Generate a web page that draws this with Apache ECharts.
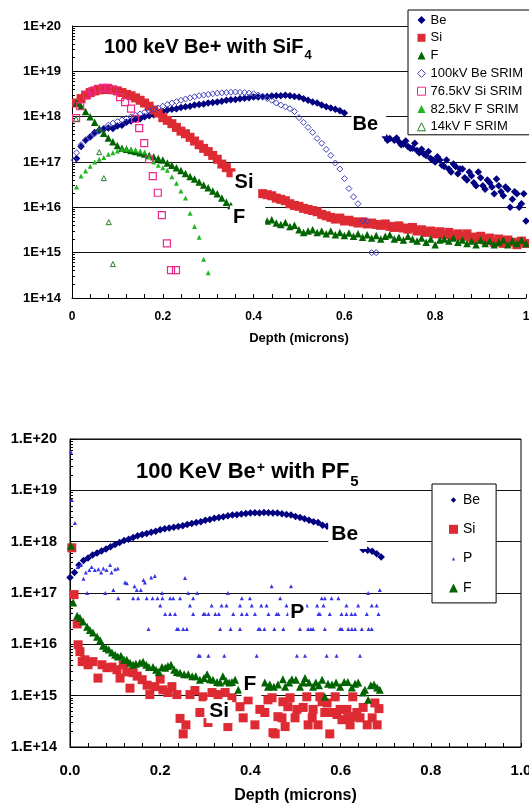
<!DOCTYPE html>
<html><head><meta charset="utf-8">
<script src="https://cdn.jsdelivr.net/npm/echarts@6/dist/echarts.min.js"></script>
<style>html,body{margin:0;padding:0;background:#fff}#c{width:529px;height:805px}</style>
</head><body><div id="c"></div>
<script>
// ---------- TOP PANEL: 100 keV Be+ with SiF4 ----------
const topDepth = [0.01,0.02,0.03,0.04,0.05,0.06,0.07,0.08,0.09,0.10,0.11,0.12,0.13,0.14,0.15,0.16,0.17,0.18,0.19,0.20,
0.21,0.22,0.23,0.24,0.25,0.26,0.27,0.28,0.29,0.30,0.31,0.32,0.33,0.34,0.35,0.36,0.37,0.38,0.39,0.40,
0.41,0.42,0.43,0.44,0.45,0.46,0.47,0.48,0.49,0.50,0.51,0.52,0.53,0.54,0.55,0.56,0.57,0.58,0.59,0.60,
0.61,0.62,0.63,0.64,0.65,0.66,0.67,0.68,0.69,0.70,0.71,0.72,0.73,0.74,0.75,0.76,0.77,0.78,0.79,0.80,
0.81,0.82,0.83,0.84,0.85,0.86,0.87,0.88,0.89,0.90,0.91,0.92,0.93,0.94,0.95,0.96,0.97,0.98,0.99,1.00];
const topBe = [1.2e17,2.2e17,3.0e17,3.6e17,4.5e17,5.0e17,5.3e17,5.6e17,5.5e17,6.2e17,6.5e17,7.5e17,8.0e17,8.8e17,9.0e17,1.0e18,1.05e18,1.1e18,1.2e18,1.3e18,
1.4e18,1.45e18,1.5e18,1.6e18,1.65e18,1.7e18,1.8e18,1.85e18,1.9e18,2.0e18,2.05e18,2.1e18,2.2e18,2.3e18,2.35e18,2.4e18,2.5e18,2.55e18,2.6e18,2.7e18,
2.7e18,2.75e18,2.8e18,2.85e18,2.9e18,2.9e18,2.95e18,2.9e18,2.8e18,2.7e18,2.5e18,2.3e18,2.1e18,2.0e18,1.8e18,1.65e18,1.55e18,1.45e18,1.35e18,1.2e18,
null,null,null,null,null,null,null,null,3.6e17,3.3e17,3.0e17,2.8e17,2.5e17,2.2e17,2.0e17,1.8e17,1.9e17,1.4e17,1.2e17,1.0e17,
1.1e17,8e16,7e16,9e16,5.5e16,7e16,4e16,5e16,3e16,4.5e16,2.5e16,3.5e16,2e16,3e16,1.8e16,2.5e16,1.5e16,2e16,1.2e16,5e15];
const topBeTailDepth = [0.695,0.715,0.725,0.735,0.745,0.755,0.765,0.775,0.785,0.795,0.805,0.815,0.825,0.835,0.845,0.855,0.865,0.875,0.885,0.895,0.905,0.915,0.925,0.935,0.945,0.955,0.965,0.975,0.985,0.995];
const topBeTailConc = [3.0e17,3.4e17,2.4e17,2.9e17,2.0e17,2.6e17,1.6e17,1.5e17,1.7e17,1.1e17,1.3e17,8.5e16,1.1e17,6e16,8e16,7e16,4.5e16,6e16,3.5e16,6e16,3e16,4e16,2.8e16,4.2e16,2.2e16,2.8e16,1.0e16,2.2e16,1.0e16,2e16];
const topSi = [2.0e18,2.5e18,3.0e18,3.4e18,3.7e18,3.9e18,4.0e18,4.0e18,3.9e18,3.7e18,3.4e18,3.1e18,2.9e18,2.6e18,2.3e18,2.0e18,1.7e18,1.4e18,1.2e18,9.5e17,
8.3e17,7.0e17,5.8e17,4.8e17,4.2e17,3.5e17,2.9e17,2.4e17,2.0e17,1.7e17,1.4e17,1.15e17,9.0e16,7.5e16,5.8e16,null,null,null,null,null,
null,2.0e16,1.9e16,1.8e16,1.6e16,1.5e16,1.4e16,1.2e16,1.1e16,1.05e16,9.5e15,9e15,8.5e15,8e15,7e15,6.5e15,6e15,5.5e15,5.8e15,5e15,
5.2e15,4.8e15,4.5e15,4.8e15,4.3e15,4.5e15,4.2e15,4.0e15,4.3e15,3.8e15,3.6e15,3.9e15,3.5e15,3.3e15,3.6e15,3.0e15,3.2e15,2.8e15,3.0e15,2.6e15,
2.9e15,2.5e15,2.8e15,2.4e15,2.6e15,2.3e15,2.6e15,2.2e15,2.0e15,2.3e15,1.9e15,2.1e15,1.7e15,2.0e15,1.6e15,1.9e15,1.7e15,1.5e15,1.8e15,1.6e15];
const topF = [2.0e18,1.7e18,1.3e18,1.0e18,7.5e17,5.5e17,4.3e17,3.4e17,2.8e17,2.3e17,2.0e17,1.9e17,1.8e17,1.7e17,1.6e17,1.5e17,1.4e17,1.3e17,1.2e17,1.1e17,
9.5e16,8.5e16,7.5e16,6.5e16,5.6e16,4.8e16,4.2e16,3.6e16,3.1e16,2.7e16,2.3e16,2.0e16,1.6e16,1.3e16,1.1e16,null,null,null,null,null,
null,5.5e15,5.0e15,5.3e15,4.5e15,4.2e15,4.6e15,3.8e15,4.0e15,3.2e15,2.8e15,3.0e15,3.2e15,2.8e15,3.0e15,2.6e15,3.0e15,2.5e15,2.8e15,2.4e15,
2.7e15,2.3e15,2.6e15,2.2e15,2.5e15,2.1e15,2.4e15,2.0e15,2.3e15,2.5e15,2.0e15,2.2e15,1.9e15,2.3e15,2.0e15,1.8e15,2.1e15,1.7e15,2.0e15,1.5e15,
1.9e15,2.0e15,1.8e15,2.1e15,1.7e15,1.9e15,1.6e15,1.8e15,1.5e15,1.9e15,1.6e15,1.8e15,1.5e15,1.7e15,1.9e15,1.5e15,1.8e15,1.6e15,1.9e15,1.6e15];
const beSrimDepth = [0.005,0.01,0.02,0.03,0.04,0.05,0.06,0.07,0.08,0.09,0.10,0.11,0.12,0.13,0.14,0.15,0.16,0.17,0.18,0.19,0.20,
0.21,0.22,0.23,0.24,0.25,0.26,0.27,0.28,0.29,0.30,0.31,0.32,0.33,0.34,0.35,0.36,0.37,0.38,0.39,0.40,
0.41,0.42,0.43,0.44,0.45,0.46,0.47,0.48,0.49,0.50,0.51,0.52,0.53,0.54,0.55,0.56,0.57,0.58,0.59,0.60,
0.61,0.62,0.63,0.64,0.65,0.66,0.67];
const beSrimConc = [1.1e17,1.6e17,2.4e17,3.0e17,3.5e17,4.2e17,4.8e17,5.6e17,6.5e17,7.2e17,7.8e17,8.5e17,9.2e17,1.0e18,1.08e18,1.15e18,1.25e18,1.35e18,1.45e18,1.55e18,1.7e18,
1.85e18,2.0e18,2.15e18,2.3e18,2.45e18,2.6e18,2.75e18,2.9e18,3.0e18,3.1e18,3.2e18,3.3e18,3.35e18,3.4e18,3.45e18,3.5e18,3.45e18,3.4e18,3.3e18,3.2e18,
3.0e18,2.8e18,2.5e18,2.3e18,2.0e18,1.8e18,1.65e18,1.5e18,1.3e18,9.5e17,7.5e17,5.8e17,4.5e17,3.3e17,2.6e17,1.9e17,1.4e17,9.5e16,7e16,4.3e16,
2.6e16,1.7e16,1.2e16,5e15,5e15,1e15,1e15];
const siSrimDepth = [0.009,0.018,0.033,0.044,0.057,0.068,0.079,0.09,0.106,0.117,0.13,0.139,0.148,0.159,0.17,0.178,0.189,0.198,0.209,0.218,0.229];
const siSrimConc = [9.3e17,1.7e18,3.0e18,3.6e18,4.1e18,4.3e18,4.3e18,3.9e18,2.7e18,2.1e18,1.5e18,9e17,5.6e17,2.6e17,1.15e17,4.9e16,2.1e16,6.7e15,1.6e15,4.1e14,4.1e14];
const fSrimDepth = [0.01,0.02,0.03,0.04,0.05,0.06,0.07,0.08,0.09,0.10,0.11,0.12,0.13,0.14,0.15,0.16,0.17,0.18,0.19,0.20,0.21,0.22,0.23,0.24,0.25,0.26,0.27,0.28,0.29,0.30];
const fSrimConc = [2.8e16,4.9e16,6.3e16,8.1e16,1.0e17,1.15e17,1.26e17,1.48e17,1.6e17,1.74e17,1.9e17,1.9e17,1.9e17,1.85e17,1.74e17,1.66e17,1.3e17,1.0e17,8.5e16,7.5e16,6.6e16,4.7e16,3.4e16,2.3e16,1.6e16,7.4e15,3.8e15,2.2e15,7.2e14,3.6e14];
const f14Depth = [0.009,0.06,0.07,0.081,0.09];
const f14Conc = [9e17,1.65e17,4.4e16,4.7e15,5.6e14];

// ---------- BOTTOM PANEL: 100 KeV Be+ with PF5 ----------
const botDepth = [0.00,0.01,0.02,0.03,0.04,0.05,0.06,0.07,0.08,0.09,0.10,0.11,0.12,0.13,0.14,0.15,0.16,0.17,0.18,0.19,
0.20,0.21,0.22,0.23,0.24,0.25,0.26,0.27,0.28,0.29,0.30,0.31,0.32,0.33,0.34,0.35,0.36,0.37,0.38,0.39,
0.40,0.41,0.42,0.43,0.44,0.45,0.46,0.47,0.48,0.49,0.50,0.51,0.52,0.53,0.54,0.55,0.56,0.57,0.58,0.59,
0.60,0.61,0.62,0.63,0.64,0.65,0.66,0.67,0.68,0.69];
const botBe = [2.0e17,2.5e17,3.5e17,4.3e17,4.8e17,5.5e17,6.0e17,6.6e17,7.2e17,8.0e17,8.8e17,9.6e17,1.05e18,1.12e18,1.2e18,1.3e18,1.38e18,1.45e18,1.52e18,1.6e18,
1.7e18,1.78e18,1.85e18,1.9e18,1.98e18,2.05e18,2.15e18,2.25e18,2.35e18,2.45e18,2.6e18,2.7e18,2.85e18,2.95e18,3.05e18,3.2e18,3.3e18,3.35e18,3.45e18,3.55e18,
3.6e18,3.65e18,3.6e18,3.7e18,3.65e18,3.6e18,3.6e18,3.5e18,3.4e18,3.3e18,3.1e18,2.95e18,2.8e18,2.6e18,2.45e18,2.35e18,2.1e18,2.0e18,null,null,
null,null,null,null,null,7.0e17,6.8e17,6.5e17,5.8e17,5.0e17];
const botSiDepth = [0.004,0.009,0.016,0.018,0.022,0.027,0.033,0.04,0.051,0.062,0.071,0.082,0.093,0.104,0.111,0.118,0.126,0.133,0.14,0.149,
0.16,0.171,0.177,0.188,0.2,0.206,0.217,0.226,0.237,0.244,0.251,0.257,0.266,0.277,0.288,0.295,0.306,0.315,0.328,0.344,
0.35,0.359,0.377,0.384,0.395,0.41,0.421,0.432,0.439,0.448,0.45,0.455,0.461,0.47,0.472,0.477,0.483,0.488,0.499,0.503,
0.517,0.525,0.528,0.537,0.539,0.55,0.554,0.559,0.565,0.57,0.576,0.583,0.588,0.592,0.599,0.603,0.614,0.616,0.621,0.627,
0.632,0.636,0.643,0.65,0.659,0.67,0.676,0.681,0.685];
const botSiConc = [7.6e17,9.3e16,2.5e16,9.8e15,7.2e15,4.6e15,5.0e15,4.0e15,4.6e15,2.2e15,4.0e15,3.5e15,3.6e15,3.2e15,2.2e15,4.0e15,2.9e15,1.4e15,2.8e15,2.4e15,
2.05e15,1.6e15,1.05e15,1.5e15,2.1e15,1.3e15,1.15e15,1.5e15,1.05e15,3.6e14,1.8e14,2.7e14,1.05e15,1.26e15,4.7e14,9.5e14,3.0e14,1.15e15,1.05e15,1.15e15,
2.5e14,9.1e14,6.1e14,3.7e14,8.3e14,2.7e14,5.4e14,4.7e14,8.3e14,9.1e14,1.9e14,1.8e14,3.9e14,3.7e14,7.6e14,2.5e14,6.1e14,9.1e14,3.7e14,5.4e14,
5.9e14,9.5e14,2.7e14,3.7e14,5.4e14,2.7e14,9.5e14,7.6e14,4.7e14,7.2e14,1.8e14,4.7e14,9.5e14,4.3e14,5.4e14,3.4e14,5.4e14,3.7e14,2.7e14,9.5e14,
3.9e14,4.7e14,3.7e14,5.9e14,2.7e14,3.7e14,7.2e14,2.7e14,5.6e14];
const botPDepth = [0.002,0.004,0.011,0.017,0.024,0.03,0.035,0.043,0.048,0.055,0.063,0.069,0.074,0.081,0.089,0.092,0.096,0.1,0.106,0.122,
0.126,0.143,0.148,0.157,0.163,0.166,0.18,0.188,0.255,
0.038,0.078,0.204,0.262,0.282,0.35,0.661,0.447,0.49,0.687,
0.107,0.14,0.151,0.17,0.183,0.194,0.205,0.222,0.229,0.244,0.273,0.381,0.399,0.466,0.558,0.565,0.58,0.595,
0.2,0.266,0.314,0.336,0.347,0.377,0.403,0.424,0.436,0.48,0.525,0.548,0.562,0.613,0.639,0.669,0.68,
0.211,0.222,0.233,0.273,0.296,0.299,0.307,0.322,0.33,0.362,0.381,0.392,0.41,0.44,0.458,0.462,0.483,0.551,0.554,0.576,0.602,0.613,0.624,0.632,0.658,0.684,
0.174,0.237,0.24,0.251,0.259,0.333,0.356,0.377,0.418,0.421,0.431,0.453,0.473,0.51,0.528,0.534,0.539,0.565,0.599,0.603,0.617,0.625,0.632,0.647,0.662,0.669,
0.285,0.288,0.307,0.342,0.414,0.503,0.521,0.569,0.591,0.643];
const botPConc = [5.6e19,6.5e18,2.3e18,3.2e17,3.5e17,1.9e17,2.5e17,2.8e17,3.2e17,2.8e17,2.9e17,2.5e17,3.0e17,2.8e17,3.5e17,2.5e17,1.15e17,2.9e17,3.0e17,1.6e17,
1.55e17,1.35e17,1.15e17,1.15e17,1.8e17,1.6e17,2.0e17,2.15e17,1.95e17,
1e17,1e17,1e17,1e17,1e17,1e17,1e17,1.35e17,1.35e17,1.15e17,
7.9e16,7.9e16,7.9e16,7.9e16,7.9e16,7.9e16,7.9e16,7.9e16,7.9e16,7.9e16,7.9e16,7.9e16,7.9e16,7.9e16,7.9e16,7.9e16,7.9e16,7.9e16,
5.7e16,5.7e16,5.7e16,5.7e16,5.7e16,5.7e16,5.7e16,5.7e16,5.7e16,5.7e16,5.7e16,5.7e16,5.7e16,5.7e16,5.7e16,5.7e16,5.7e16,
3.9e16,3.9e16,3.9e16,3.9e16,3.9e16,3.9e16,3.9e16,3.9e16,3.9e16,3.9e16,3.9e16,3.9e16,3.9e16,3.9e16,3.9e16,3.9e16,3.9e16,3.9e16,3.9e16,3.9e16,3.9e16,3.9e16,3.9e16,3.9e16,3.9e16,3.9e16,
2e16,2e16,2e16,2e16,2e16,2e16,2e16,2e16,2e16,2e16,2e16,2e16,2e16,2e16,2e16,2e16,2e16,2e16,2e16,2e16,2e16,2e16,2e16,2e16,2e16,2e16,
6e15,6e15,6e15,6e15,6e15,6e15,6e15,6e15,6e15,6e15];
const botFDepth = [0.002,0.007,0.016,0.022,0.029,0.038,0.044,0.051,0.06,0.067,0.073,0.08,0.086,0.093,0.1,0.106,0.113,0.12,0.126,0.133,
0.14,0.146,0.155,0.162,0.169,0.175,0.184,0.191,0.197,0.204,0.211,0.217,0.224,0.231,0.237,0.244,0.253,0.262,0.271,0.279,
0.288,0.297,0.304,0.31,0.317,0.326,0.333,0.339,0.346,0.353,0.359,0.366,0.373,0.432,0.439,0.443,0.452,0.461,0.472,0.477,
0.486,0.492,0.501,0.51,0.517,0.521,0.53,0.539,0.545,0.552,0.559,0.565,0.572,0.581,0.59,0.599,0.608,0.616,0.625,0.632,
0.639,0.65,0.654,0.661,0.667,0.674,0.681,0.687];
const botFConc = [8.3e17,6.5e16,3.6e16,3.3e16,2.8e16,2.2e16,1.9e16,1.7e16,1.4e16,1.2e16,9.4e15,8.5e15,7.9e15,6.9e15,6.3e15,5.8e15,6.0e15,5.0e15,5.0e15,4.4e15,
4.0e15,4.2e15,4.4e15,4.6e15,4.0e15,3.6e15,3.6e15,3.2e15,2.9e15,3.6e15,3.5e15,3.8e15,4.0e15,3.2e15,2.9e15,2.8e15,2.6e15,2.6e15,2.4e15,2.4e15,
2.05e15,2.2e15,2.6e15,2.1e15,2.05e15,1.85e15,1.8e15,2.4e15,1.95e15,1.8e15,1.85e15,2.05e15,1.3e15,1.8e15,1.5e15,1.65e15,1.5e15,1.65e15,2.1e15,1.5e15,
1.8e15,2.1e15,2.05e15,1.5e15,1.8e15,2.2e15,1.8e15,1.5e15,1.8e15,1.6e15,2.05e15,9.5e14,1.7e15,1.65e15,1.8e15,1.5e15,1.85e15,1.85e15,1.45e15,1.7e15,
1.8e15,1.15e15,1.3e15,8.3e14,1.6e15,1.65e15,1.45e15,1.3e15];

// text annotations placed in data coordinates
const annoText  = ['Be','Si','F','Be','P','F','Si'];
const annoGrid  = [0,0,0,1,1,1,1];
const annoDepth = [0.646,0.379,0.368,0.609,0.504,0.399,0.331];
const annoConc  = [6.8e17,3.5e16,5.4e15,1.38e18,4.2e16,1.75e15,4.9e14];

const topLegend = ['Be','Si','F','100kV Be SRIM','76.5kV Si SRIM','82.5kV F SRIM','14kV F SRIM'];
const botLegend = ['Be','Si','P','F'];

// ---------- chart ----------
const FONT = '"Liberation Sans", Arial, Helvetica, sans-serif';
const NAVY = '#000080', RED = '#de2a33', DKGREEN = '#006400';
function pairs(xs, ys){ const o=[]; for(let i=0;i<xs.length;i++){ if(ys[i]!=null) o.push([xs[i], ys[i]]); } return o; }

const chart = echarts.init(document.getElementById('c'), null, {renderer:'canvas'});

function xAx(grid, fs, margin, nameGap, fmt){
  return {gridIndex:grid, type:'value', min:0, max:1, interval:0.2,
    axisLine:{show:true, onZero:false, lineStyle:{color:'#000', width:1}},
    axisTick:{show:true, inside:true, length:4, lineStyle:{color:'#000'}},
    minorTick:{show:true, splitNumber:5, length:4, lineStyle:{color:'#000'}},
    splitLine:{show:false},
    axisLabel:{color:'#000', fontSize:fs, fontWeight:'bold', fontFamily:FONT, margin:margin, formatter:fmt},
    name:'Depth (microns)', nameLocation:'middle', nameGap:nameGap,
    nameTextStyle:{color:'#000', fontSize:fs+1, fontWeight:'bold', fontFamily:FONT}};
}
function yAx(grid, fs, margin, prefix){
  return {gridIndex:grid, type:'log', logBase:10, min:1e14, max:1e20,
    axisLine:{show:true, onZero:false, lineStyle:{color:'#000', width:1}},
    axisTick:{show:true, inside:true, length:5, lineStyle:{color:'#000'}},
    minorTick:{show:true, splitNumber:9, length:3, lineStyle:{color:'#000'}},
    splitLine:{show:true, lineStyle:{color:'#111', width:1}},
    axisLabel:{color:'#000', fontSize:fs, fontWeight:'bold', fontFamily:FONT, margin:margin,
      formatter:v=>prefix+Math.round(Math.log10(v))}};
}
function sc(name, xi, data, symbol, size, itemStyle){
  return {name, type:'scatter', xAxisIndex:xi, yAxisIndex:xi, data, symbol, symbolSize:size,
    itemStyle:Object.assign({opacity:1}, itemStyle), silent:true, emphasis:{disabled:true}};
}
const openStyle = (c,w)=>({color:'transparent', borderColor:c, borderWidth:w});

const option = {
  animation:false,
  backgroundColor:'#fff',
  title:[
    {text:'{m|100 keV Be+ with SiF}{s|4}', left:104, top:37, padding:0,
     textStyle:{rich:{m:{fontSize:20, fontWeight:'bold', fontFamily:FONT, color:'#000', lineHeight:24, verticalAlign:'top'},
                      s:{fontSize:13, fontWeight:'bold', fontFamily:FONT, color:'#000', lineHeight:13, verticalAlign:'top', padding:[12,0,0,1]}}}},
    {text:'{m|100 KeV Be}{p|+}{m| with PF}{s|5}', left:136, top:461, padding:0,
     textStyle:{rich:{m:{fontSize:22, fontWeight:'bold', fontFamily:FONT, color:'#000', lineHeight:26, verticalAlign:'top'},
                      p:{fontSize:14, fontWeight:'bold', fontFamily:FONT, color:'#000', lineHeight:14, verticalAlign:'top', padding:[0,0,0,1]},
                      s:{fontSize:15, fontWeight:'bold', fontFamily:FONT, color:'#000', lineHeight:15, verticalAlign:'top', padding:[13,0,0,1]}}}}
  ],
  legend:[
    {left:408, top:10, orient:'vertical', selectedMode:false, itemWidth:8, itemHeight:8, itemGap:3.8,
     padding:[3,14,1,9], borderColor:'#000', borderWidth:1, backgroundColor:'#fff',
     textStyle:{fontSize:13, fontFamily:FONT, color:'#000', lineHeight:14},
     data:topLegend.map(n=>({name:n, itemStyle:{borderWidth: n.indexOf('SRIM')>0 ? 1 : 0}}))},
    {left:432, top:484, orient:'vertical', selectedMode:false, itemWidth:9, itemHeight:9, itemGap:13.3,
     padding:[8,16,7,17], borderColor:'#000', borderWidth:1, backgroundColor:'#fff',
     textStyle:{fontSize:14, fontFamily:FONT, color:'#000', lineHeight:16},
     data:botLegend.map(n=>n==='P' ? {name:n, icon:'path://M0,0M10,10M3.2,7L5,3.6L6.8,7Z'} : (n==='Be' ? {name:n, icon:'path://M0,0M10,10M5,2L8,5L5,8L2,5Z'} : {name:n}))}
  ],
  grid:[
    {left:72, top:26, width:454, height:272, outerBoundsMode:'none', containLabel:false},
    {left:70, top:439, width:451, height:308, outerBoundsMode:'none', containLabel:false, show:true, borderColor:'#000', borderWidth:1, backgroundColor:'transparent'}
  ],
  xAxis:[ xAx(0, 12, 13, 34, v=>String(+v.toFixed(1))), xAx(1, 15, 16, 41, v=>v.toFixed(1)) ],
  yAxis:[ yAx(0, 13, 11, '1E+'), yAx(1, 14.5, 13, '1.E+') ],
  series:[
    sc('Be', 0, pairs(topDepth, topBe).concat(pairs(topBeTailDepth, topBeTailConc)), 'diamond', 7.5, {color:NAVY}),
    sc('Si', 0, pairs(topDepth, topSi), 'rect', 9, {color:RED}),
    sc('F', 0, pairs(topDepth, topF), 'triangle', 7.5, {color:DKGREEN}),
    sc('100kV Be SRIM', 0, pairs(beSrimDepth, beSrimConc), 'diamond', 6, openStyle('#4040c0',1)),
    sc('76.5kV Si SRIM', 0, pairs(siSrimDepth, siSrimConc), 'rect', 7, openStyle('#f0288a',1.2)),
    sc('82.5kV F SRIM', 0, pairs(fSrimDepth, fSrimConc), 'triangle', 5, {color:'#22b522'}),
    sc('14kV F SRIM', 0, pairs(f14Depth, f14Conc), 'triangle', 5, openStyle('#2a7a2a',1)),
    sc('Be', 1, pairs(botDepth, botBe), 'diamond', 7.5, {color:NAVY}),
    sc('Si', 1, pairs(botSiDepth, botSiConc), 'rect', 9, {color:RED}),
    sc('P', 1, pairs(botPDepth, botPConc), 'triangle', 4, {color:'#3535e6'}),
    sc('F', 1, pairs(botFDepth, botFConc), 'triangle', 8, {color:DKGREEN})
  ]
};
chart.setOption(option);

// annotation labels with white boxes (positions from data coordinates)
const annoFont = ['bold 20px '+FONT,'bold 20px '+FONT,'bold 20px '+FONT,'bold 21px '+FONT,'bold 21px '+FONT,'bold 21px '+FONT,'bold 21px '+FONT];
const annoPad = [[2,8,2,1],[1,2,1,2],[4,20,1,3],[4,9,4,3],[1,2,1,2],[1,5,3,2],[1,3,1,3]];
const g = annoText.map((t,i)=>{
  const p = chart.convertToPixel({gridIndex:annoGrid[i]}, [annoDepth[i], annoConc[i]]);
  const pad = annoPad[i];
  return {type:'text', z:100, x:p[0] + (pad[1]-pad[3])/2, y:p[1] + (pad[2]-pad[0])/2,
    style:{text:t, font:annoFont[i], fill:'#000', align:'center', verticalAlign:'middle',
           backgroundColor:'#fff', padding:pad}};
});
chart.setOption({graphic:g});
</script>
</body></html>
